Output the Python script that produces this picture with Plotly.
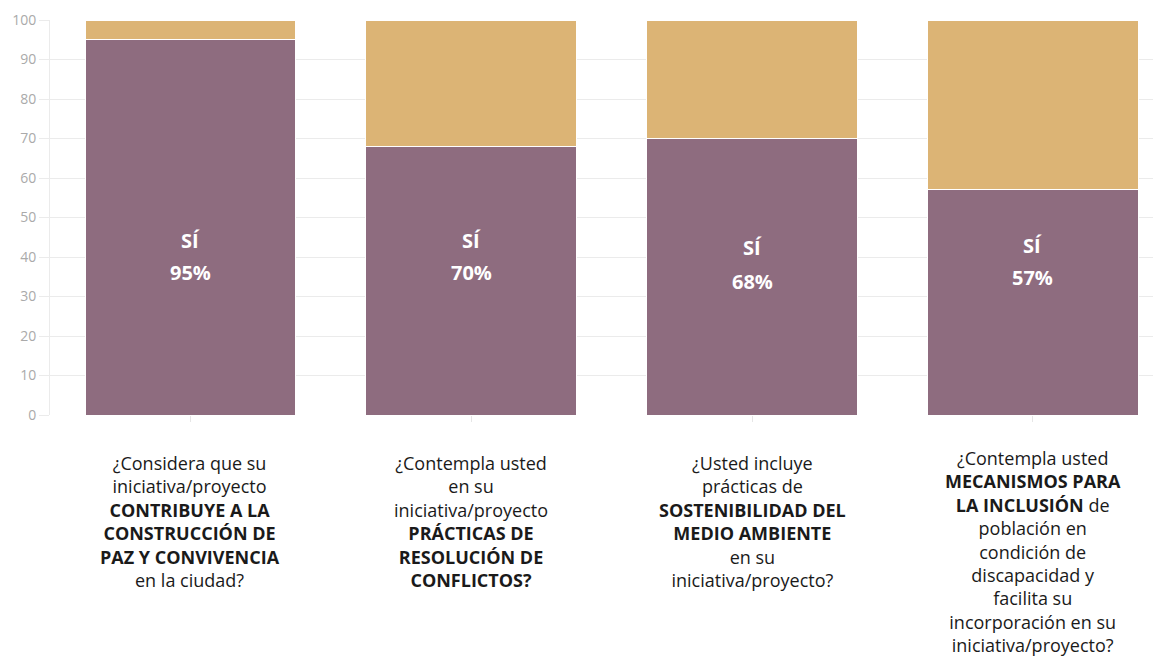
import plotly.graph_objects as go

categories = ["Paz y convivencia", "Resolución de conflictos", "Sostenibilidad", "Inclusión"]
si_values = [95, 68, 70, 57]
no_values = [5, 32, 30, 43]
si_labels = ["95%", "70%", "68%", "57%"]
si_word_y = [44.3, 44.3, 42.5, 43.0]
si_pct_y = [36.0, 36.2, 33.9, 34.7]
y_ticks = [0, 10, 20, 30, 40, 50, 60, 70, 80, 90, 100]

question_lines = [
    ["¿Considera que su", "iniciativa/proyecto", "<b>CONTRIBUYE A LA</b>", "<b>CONSTRUCCIÓN DE</b>",
     "<b>PAZ Y CONVIVENCIA</b>", "en la ciudad?"],
    ["¿Contempla usted", "en su", "iniciativa/proyecto", "<b>PRÁCTICAS DE</b>",
     "<b>RESOLUCIÓN DE</b>", "<b>CONFLICTOS?</b>"],
    ["¿Usted incluye", "prácticas de", "<b>SOSTENIBILIDAD DEL</b>", "<b>MEDIO AMBIENTE</b>",
     "en su", "iniciativa/proyecto?"],
    ["¿Contempla usted", "<b>MECANISMOS PARA</b>", "<b>LA INCLUSIÓN</b> de", "población en",
     "condición de", "discapacidad y", "facilita su", "incorporación en su", "iniciativa/proyecto?"],
]
question_shift = [-34, -34, -34, -29]

PURPLE = "#8E6C7F"
GOLD = "#DCB475"

fig = go.Figure()
fig.add_trace(go.Bar(x=categories, y=si_values, marker=dict(color=PURPLE, line=dict(color="white", width=1)),
                     width=0.75, hoverinfo="skip", name="Sí"))
fig.add_trace(go.Bar(x=categories, y=no_values, marker=dict(color=GOLD, line=dict(color="white", width=1)),
                     width=0.75, hoverinfo="skip", name="No"))

ann = []
for i, c in enumerate(categories):
    ann.append(dict(x=c, y=si_word_y[i], xref="x", yref="y", text="<b>SÍ</b>", showarrow=False,
                    font=dict(family="Open Sans", size=20, color="white")))
    ann.append(dict(x=c, y=si_pct_y[i], xref="x", yref="y", text="<b>" + si_labels[i] + "</b>", showarrow=False,
                    font=dict(family="Open Sans", size=20, color="white")))
    ann.append(dict(x=c, y=0, xref="x", yref="y", yanchor="top", yshift=question_shift[i],
                    text="<br>".join(question_lines[i]), showarrow=False, align="center",
                    font=dict(family="Open Sans", size=18, color="#1a1a1a")))

fig.update_layout(
    barmode="stack",
    width=1153, height=648,
    margin=dict(l=42, r=0, t=12, b=241),
    paper_bgcolor="white", plot_bgcolor="white",
    showlegend=False,
    annotations=ann,
    xaxis=dict(range=[-0.5, 3.456], showticklabels=False, ticks="outside", ticklen=6,
               tickcolor="#e6e6e6", showgrid=False, zeroline=False, showline=False),
    yaxis=dict(range=[0, 100], tickvals=y_ticks, ticks="outside", ticklen=10, tickcolor="#ebebeb",
               gridcolor="#ebebeb", gridwidth=1, zeroline=False, showline=True, linecolor="#ebebeb",
               tickfont=dict(family="Open Sans", size=14, color="#aaaaaa")),
)

fig.write_html("out.html")
